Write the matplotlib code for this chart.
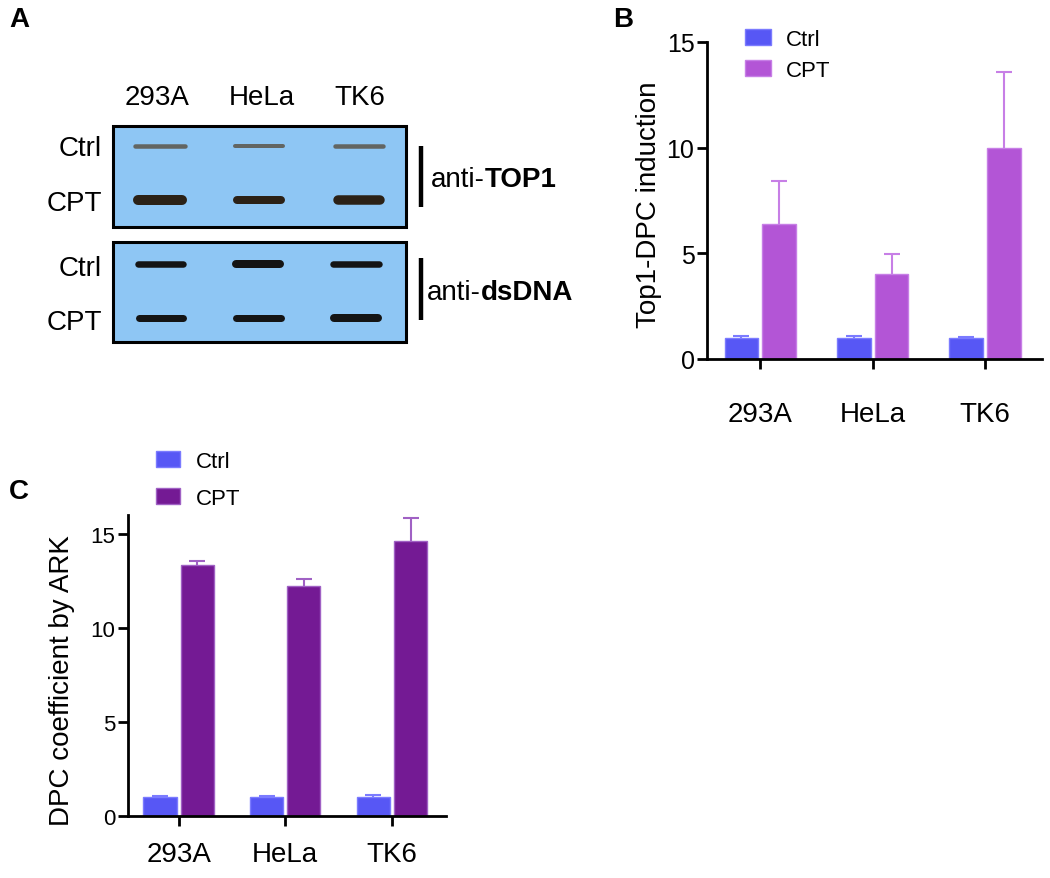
import matplotlib
matplotlib.use("Agg")
import matplotlib.pyplot as plt
import numpy as np
from matplotlib.patches import Rectangle

plt.rcParams['font.family'] = ['Liberation Sans', 'DejaVu Sans']

# ---------------- data ----------------
cell_lines = ["293A", "HeLa", "TK6"]
series = ["Ctrl", "CPT"]

# Panel B: Top1-DPC induction
b_ctrl = [1.0, 1.0, 1.0]
b_ctrl_err = [0.07, 0.1, 0.05]
b_cpt = [6.4, 4.0, 10.0]
b_cpt_err = [2.0, 0.95, 3.6]
b_yticks = [0, 5, 10, 15]

# Panel C: DPC coefficient by ARK
c_ctrl = [1.0, 1.0, 1.0]
c_ctrl_err = [0.06, 0.06, 0.12]
c_cpt = [13.35, 12.2, 14.6]
c_cpt_err = [0.2, 0.38, 1.25]
c_yticks = [0, 5, 10, 15]

# Panel A: blot band thickness (px) per lane
blot_rows = ["Ctrl", "CPT"]
top1_ctrl_band = [4.5, 4.0, 4.5]
top1_cpt_band = [10.0, 8.0, 9.5]
dsdna_ctrl_band = [6.5, 8.0, 6.5]
dsdna_cpt_band = [7.0, 7.0, 8.0]

# ---------------- colours ----------------
col_ctrl = "#5757f5"
col_ctrl_edge = "#7b7bff"
col_cpt_b = "#b355d6"
col_cpt_b_edge = "#c77fe6"
col_cpt_c = "#741a94"
col_cpt_c_edge = "#a061c4"

W, H = 1050, 879
fig = plt.figure(figsize=(W / 100, H / 100), dpi=100)

# ---------------- overlay axes for panel A & letters (pixel coords) -----
ov = fig.add_axes([0, 0, 1, 1])
ov.set_xlim(0, W)
ov.set_ylim(H, 0)
ov.axis("off")

ov.text(9, 20, "A", fontsize=20, fontweight="bold", va="center", ha="left")
ov.text(613, 20, "B", fontsize=20, fontweight="bold", va="center", ha="left")
ov.text(9, 492, "C", fontsize=20, fontweight="bold", va="center", ha="left")

lane_x = [(133, 187), (233, 285), (333, 385)]
lane_x2 = [(135, 186), (232, 284), (330, 382)]
lane_centers = [157, 262, 360]
for cx, name in zip(lane_centers, cell_lines):
    ov.text(cx, 98, name, fontsize=20, ha="center", va="center")

blot_col = "#8ec6f4"
for (y0, y1) in [(127, 228), (243, 343)]:
    ov.add_patch(Rectangle((113, y0), 293, y1 - y0, facecolor=blot_col,
                           edgecolor="black", lw=2.2, zorder=1))

def band(xr, y, px, color, alpha=1.0):
    lw = px * 0.72
    ov.plot([xr[0] + px / 2, xr[1] - px / 2], [y, y], color=color, lw=lw,
            solid_capstyle="round", alpha=alpha, zorder=2)

for i in range(3):
    band(lane_x[i], 147, top1_ctrl_band[i], "#5e5b52", 0.9)
    band(lane_x[i], 201, top1_cpt_band[i], "#2b2116")
    band(lane_x2[i], 265, dsdna_ctrl_band[i], "#141414")
    band(lane_x2[i], 319, dsdna_cpt_band[i], "#141414")

for y, lab in zip([149, 204, 269, 323], blot_rows * 2):
    ov.text(102, y, lab, fontsize=20, ha="right", va="center")

ov.plot([421, 421], [147, 208], color="black", lw=3.2, solid_capstyle="butt")
ov.plot([421, 421], [259, 321], color="black", lw=3.2, solid_capstyle="butt")
t1 = ov.text(431, 180, "anti-", fontsize=20, ha="left", va="baseline")
t1.set_y(187)
ov.annotate("TOP1", xy=(1, 0), xycoords=t1, fontsize=20, fontweight="bold",
            ha="left", va="bottom")
t2 = ov.text(427, 300, "anti-", fontsize=20, ha="left", va="baseline")
ov.annotate("dsDNA", xy=(1, 0), xycoords=t2, fontsize=20, fontweight="bold",
            ha="left", va="bottom")

# ---------------- bar panel helper ----------------
def bar_panel(rect, ctrl, ctrl_err, cpt, cpt_err, cpt_col, cpt_edge, ylim,
              yticks, ylabel, ylabel_x, ylabel_y, xpad, ytick_fs, off, width):
    ax = fig.add_axes(rect)
    x = np.arange(len(cell_lines))
    ax.bar(x - off, ctrl, width, color=col_ctrl, edgecolor=col_ctrl_edge,
           lw=1.0, label=series[0], zorder=2)
    ax.bar(x + off, cpt, width, color=cpt_col, edgecolor=cpt_edge,
           lw=1.0, label=series[1], zorder=2)
    for xs, vals, errs, ec in [(x - off, ctrl, ctrl_err, col_ctrl_edge),
                               (x + off, cpt, cpt_err, cpt_edge)]:
        eb = ax.errorbar(xs, vals, yerr=[np.zeros(3), errs], fmt="none",
                         ecolor=ec, elinewidth=1.5, capsize=6, capthick=1.5,
                         zorder=1)
        caps = eb.lines[1]
        if len(caps) == 2:
            caps[0].set_visible(False)
    ax.set_xlim(-0.475, 2.507)
    ax.set_ylim(*ylim)
    ax.set_yticks(yticks)
    ax.set_xticks(x)
    ax.set_xticklabels(cell_lines, fontsize=20)
    ax.tick_params(axis="x", direction="out", length=7, width=2, pad=xpad)
    ax.tick_params(axis="y", direction="out", length=7, width=2, pad=2,
                   labelsize=ytick_fs)
    for s in ["top", "right"]:
        ax.spines[s].set_visible(False)
    for s in ["left", "bottom"]:
        ax.spines[s].set_linewidth(2)
    ax.set_ylabel(ylabel, fontsize=20)
    ax.yaxis.set_label_coords(ylabel_x, ylabel_y)
    return ax

axB = bar_panel([707 / W, 1 - 360 / H, 335 / W, 317 / H], b_ctrl, b_ctrl_err,
                b_cpt, b_cpt_err, col_cpt_b, col_cpt_b_edge, (0, 15), b_yticks,
                "Top1-DPC induction", -0.134, 0.49, 23, 18, 0.168, 0.30)
axB.legend(loc="upper left", bbox_to_anchor=(745 / W, 1 - 30 / H),
           bbox_transform=fig.transFigure, frameon=False, fontsize=16,
           handlelength=1.15, handleheight=0.75, handletextpad=0.7,
           labelspacing=0.45, borderpad=0, borderaxespad=0)

axC = bar_panel([128 / W, 1 - 817 / H, 318 / W, 301 / H], c_ctrl, c_ctrl_err,
                c_cpt, c_cpt_err, col_cpt_c, col_cpt_c_edge, (0, 16), c_yticks,
                "DPC coefficient by ARK", -0.167, 0.452, 11, 16, 0.175, 0.31)
axC.legend(loc="upper left", bbox_to_anchor=(156 / W, 1 - 452 / H),
           bbox_transform=fig.transFigure, frameon=False, fontsize=16,
           handlelength=1.1, handleheight=0.75, handletextpad=0.7,
           labelspacing=0.72, borderpad=0, borderaxespad=0)

fig.savefig("out.png", dpi=100)
